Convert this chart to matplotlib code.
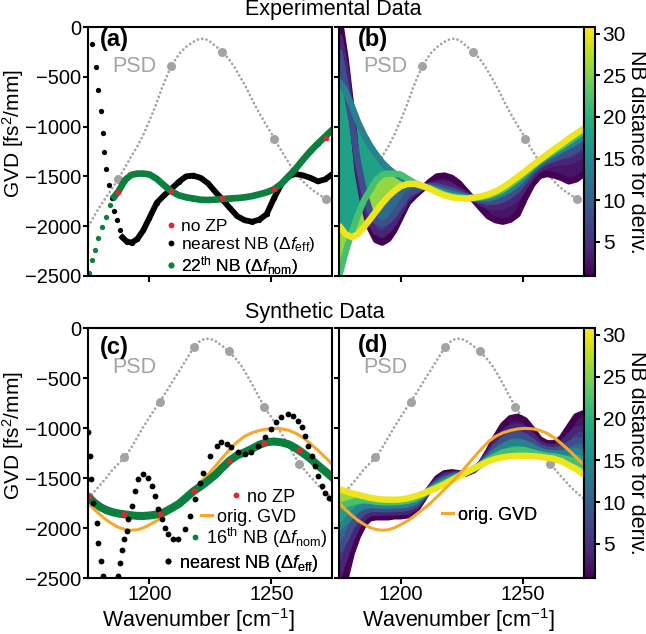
import numpy as np
import matplotlib
matplotlib.use("Agg")
import matplotlib.pyplot as plt
from matplotlib.colors import Normalize
from matplotlib.cm import ScalarMappable
from matplotlib.lines import Line2D

plt.rcParams["font.family"] = ["Liberation Sans", "DejaVu Sans"]
plt.rcParams["mathtext.fontset"] = "custom"
plt.rcParams["mathtext.rm"] = "Liberation Sans"
plt.rcParams["mathtext.it"] = "Liberation Sans:italic"
plt.rcParams["mathtext.bf"] = "Liberation Sans:bold"

# ---------------- data ----------------
# common wavenumber grid used for the smooth curves
xg = [1175, 1177.5, 1180, 1182.5, 1185, 1187.5, 1190, 1192.5, 1195, 1197.5, 1200, 1203,
      1206, 1209, 1212, 1215, 1218, 1221, 1224, 1227, 1230, 1233, 1236, 1239, 1242, 1245,
      1248, 1251, 1254, 1257, 1260, 1263, 1266, 1269, 1272, 1275]

# PSD (grey, arbitrary scale drawn on the GVD axis)
psd_x = [1175, 1177.5, 1180, 1182.5, 1185, 1187.5, 1190, 1192.5, 1195, 1197.5, 1200, 1202.5,
         1205, 1207.5, 1210, 1212.5, 1215, 1217.5, 1220, 1222.5, 1225, 1227.5, 1230, 1232.5,
         1235, 1237.5, 1240, 1242.5, 1245, 1247.5, 1250, 1252.5, 1255, 1257.5, 1260, 1262.5,
         1265, 1267.5, 1270, 1272.5, 1275]
psd_exp = [-2000, -1890, -1790, -1700, -1610, -1515, -1410, -1300, -1200, -1080,
           -940, -790, -620, -470, -350, -260, -200, -155, -125, -115,
           -150, -200, -255, -320, -410, -515, -625, -750, -865, -970,
           -1070, -1180, -1280, -1380, -1465, -1540, -1600, -1650, -1690, -1730, -1765]
psd_syn = [-1695, -1630, -1560, -1490, -1410, -1350, -1290, -1195, -1090, -985,
           -890, -795, -705, -610, -510, -415, -315, -215, -140, -105,
           -105, -135, -180, -230, -295, -370, -470, -580, -695, -805,
           -890, -990, -1090, -1195, -1300, -1385, -1460, -1525, -1595, -1650, -1700]

# experimental: no zero padding grid
nozp_exp_x = [1187.2, 1208.7, 1229.7, 1251.1, 1272.2]
nozp_exp_gvd = [-1653, -1643, -1720, -1630, -1115]
nozp_exp_psd = [-1530, -395, -254, -1123, -1732]

# experimental: nearest neighbour
nb1_exp_x = [1176.6, 1178.0, 1179.1, 1180.0, 1180.9, 1181.5, 1182.3, 1183.4, 1184.5, 1185.6,
             1186.8, 1187.8, 1188.9, 1190.7, 1192.7, 1195, 1197.5, 1200, 1203, 1206,
             1209, 1212, 1215, 1218, 1221, 1224, 1227, 1230, 1233, 1236,
             1239, 1242, 1245, 1248, 1251, 1254, 1257, 1260, 1263, 1266, 1269, 1272, 1275]
nb1_exp_y = [-171, -398, -633, -840, -1061, -1252, -1429, -1586, -1720, -1844,
             -1938, -2038, -2112, -2155, -2165, -2130, -2040, -1915, -1765, -1690,
             -1625, -1555, -1500, -1492, -1515, -1570, -1655, -1735, -1820, -1900,
             -1940, -1955, -1935, -1880, -1720, -1580, -1495, -1476, -1490, -1515, -1550, -1530, -1476]

# experimental: 22nd neighbour
nb22_exp_x = [1175.3, 1176.6, 1177.7, 1179.1, 1180.7, 1182.1, 1183.8, 1185.6, 1187.2, 1190,
              1192.5, 1195, 1197.5, 1200, 1203, 1206, 1209, 1212, 1215, 1218,
              1221, 1224, 1227, 1230, 1233, 1236, 1239, 1242, 1245, 1248,
              1251, 1254, 1257, 1260, 1263, 1266, 1269, 1272, 1275]
nb22_exp_y = [-2473, -2340, -2239, -2122, -2005, -1904, -1787, -1703, -1653, -1536,
              -1485, -1472, -1472, -1480, -1525, -1590, -1650, -1690, -1710, -1722,
              -1735, -1737, -1733, -1727, -1722, -1718, -1710, -1698, -1680, -1660,
              -1630, -1575, -1500, -1420, -1330, -1245, -1170, -1100, -1030]

# experimental: GVD for several neighbour distances (panel b)
fam_n = [1, 4, 8, 14, 22, 30]
fam_exp = [
    [90, -320, -840, -1460, -1800, -2020, -2140, -2165, -2130, -2040, -1915, -1765, -1690,
     -1625, -1555, -1500, -1492, -1515, -1570, -1655, -1735, -1820, -1900, -1940, -1955,
     -1935, -1880, -1720, -1580, -1495, -1476, -1490, -1515, -1550, -1530, -1476],
    [-100, -420, -900, -1420, -1760, -1960, -2060, -2080, -2040, -1960, -1850, -1720, -1660,
     -1610, -1590, -1570, -1580, -1600, -1640, -1685, -1725, -1765, -1800, -1810, -1800,
     -1765, -1710, -1600, -1495, -1425, -1390, -1370, -1360, -1355, -1325, -1270],
    [-250, -600, -950, -1350, -1650, -1850, -1950, -1980, -1950, -1880, -1790, -1680, -1640,
     -1605, -1600, -1600, -1620, -1640, -1670, -1700, -1720, -1740, -1760, -1750, -1730,
     -1690, -1635, -1545, -1455, -1390, -1350, -1320, -1295, -1270, -1230, -1180],
    [-550, -650, -790, -950, -1080, -1190, -1280, -1360, -1420, -1470, -1510, -1550, -1580,
     -1600, -1610, -1630, -1650, -1675, -1690, -1710, -1720, -1720, -1720, -1700, -1670,
     -1630, -1575, -1500, -1425, -1365, -1315, -1275, -1235, -1195, -1155, -1100],
    [-2490, -2260, -2060, -1890, -1740, -1640, -1536, -1485, -1472, -1472, -1480, -1525, -1570,
     -1600, -1620, -1650, -1680, -1700, -1710, -1720, -1715, -1710, -1695, -1670, -1635,
     -1585, -1530, -1470, -1405, -1345, -1295, -1245, -1200, -1150, -1100, -1050],
    [-2000, -2080, -2110, -2080, -2010, -1930, -1850, -1770, -1700, -1645, -1600, -1575, -1575,
     -1595, -1625, -1660, -1690, -1710, -1720, -1722, -1715, -1700, -1680, -1650, -1610,
     -1560, -1505, -1450, -1390, -1335, -1280, -1225, -1175, -1120, -1070, -1020],
]

# synthetic: original GVD and 16th neighbour
orig_gvd = [-1750, -1815, -1870, -1920, -1960, -1993, -2012, -2020, -2015, -1995, -1965, -1925,
            -1870, -1813, -1755, -1685, -1612, -1540, -1462, -1378, -1292, -1210, -1135, -1080,
            -1045, -1022, -1007, -1001, -1005, -1020, -1050, -1095, -1155, -1220, -1290, -1360]
nb16_syn = [-1690, -1745, -1790, -1820, -1840, -1853, -1862, -1870, -1876, -1877, -1872, -1862,
            -1840, -1800, -1757, -1695, -1630, -1580, -1525, -1465, -1390, -1320, -1270, -1240,
            -1205, -1165, -1140, -1132, -1140, -1160, -1200, -1250, -1305, -1370, -1430, -1493]

nozp_syn_x = [1175.3, 1189.7, 1204.3, 1218.3, 1232.6, 1246.9, 1261.3]
nozp_syn_gvd = [-1676, -1855, -1855, -1624, -1323, -1145, -1215]
nozp_syn_psd = [-1690, -1290, -733, -186, -230, -785, -1354]

nb1_syn_x = [1174.96, 1175.65, 1176.06, 1177.0, 1178.4, 1179.05, 1180.2, 1181.1, 1187.2, 1187.9,
             1188.9, 1189.7, 1190.7, 1191.3, 1192.7, 1194.1, 1195.4, 1197.5, 1199.5, 1200.9,
             1202.3, 1203.6, 1205.0, 1206.3, 1207.7, 1209.7, 1211.8, 1214.5, 1216.6, 1218.6,
             1220.7, 1222.0, 1224.8, 1227.5, 1229.5, 1231.6, 1233.6, 1236.3, 1239.0, 1241.8,
             1244.5, 1247.3, 1250.0, 1252.0, 1254.1, 1256.8, 1258.8, 1260.9, 1262.3, 1263.6,
             1265.0, 1266.4, 1267.8, 1269.1, 1270.5, 1271.8, 1273.4, 1275.0]
nb1_syn_y = [-1041, -1275, -1510, -1744, -1945, -2145, -2329, -2480, -2480, -2346,
             -2213, -2112, -2028, -1911, -1777, -1627, -1510, -1460, -1493, -1577,
             -1677, -1811, -1911, -1995, -2062, -2112, -2105, -2012, -1877, -1711,
             -1543, -1443, -1275, -1175, -1141, -1158, -1192, -1242, -1259, -1242,
             -1175, -1092, -1008, -941, -891, -858, -874, -924, -991, -1075,
             -1175, -1275, -1376, -1476, -1577, -1643, -1694, -1711]

fam_syn = [
    [-2700, -2500, -2250, -2080, -1960, -1900, -1890, -1890, -1890, -1880, -1880, -1870, -1830,
     -1720, -1600, -1500, -1450, -1440, -1450, -1450, -1420, -1350, -1230, -1090, -970,
     -900, -885, -920, -1010, -1110, -1150, -1150, -1100, -990, -880, -850],
    [-2430, -2280, -2100, -1975, -1890, -1850, -1845, -1845, -1845, -1840, -1840, -1830, -1795,
     -1705, -1605, -1525, -1475, -1460, -1455, -1450, -1415, -1355, -1255, -1145, -1050,
     -995, -980, -1010, -1075, -1155, -1185, -1190, -1155, -1085, -1010, -1000],
    [-2210, -2110, -1980, -1895, -1835, -1810, -1805, -1810, -1810, -1805, -1805, -1795, -1765,
     -1690, -1610, -1545, -1500, -1475, -1465, -1445, -1410, -1355, -1275, -1185, -1115,
     -1070, -1060, -1080, -1130, -1190, -1215, -1220, -1205, -1160, -1120, -1125],
    [-1990, -1935, -1860, -1810, -1780, -1765, -1770, -1775, -1775, -1770, -1770, -1760, -1735,
     -1680, -1615, -1560, -1520, -1490, -1470, -1445, -1405, -1360, -1295, -1230, -1180,
     -1145, -1140, -1150, -1185, -1225, -1245, -1250, -1250, -1235, -1225, -1245],
    [-1775, -1760, -1740, -1725, -1720, -1725, -1735, -1740, -1740, -1740, -1735, -1725, -1705,
     -1665, -1620, -1580, -1545, -1510, -1475, -1440, -1405, -1365, -1315, -1275, -1240,
     -1225, -1215, -1220, -1240, -1260, -1275, -1280, -1295, -1315, -1330, -1370],
    [-1610, -1630, -1650, -1665, -1680, -1695, -1705, -1712, -1714, -1714, -1712, -1700, -1680,
     -1655, -1625, -1595, -1560, -1520, -1480, -1440, -1400, -1365, -1330, -1305, -1290,
     -1280, -1275, -1275, -1278, -1285, -1295, -1305, -1330, -1370, -1410, -1460],
]

RED = "#e4262c"
GREEN = "#0b7f3d"
ORANGE = "#f6a82a"
GREY = "#a3a3a3"
cmap = plt.get_cmap("viridis")
norm = Normalize(0.9, 30.8)

fig = plt.figure(figsize=(6.46, 6.34), dpi=100)
ax_a = fig.add_axes([0.1362, 0.5647, 0.3785, 0.3927])
ax_b = fig.add_axes([0.5248, 0.5647, 0.3785, 0.3927])
ax_c = fig.add_axes([0.1362, 0.0879, 0.3785, 0.3943])
ax_d = fig.add_axes([0.5248, 0.0879, 0.3785, 0.3943])
cax_b = fig.add_axes([0.9033, 0.5647, 0.0178, 0.3927])
cax_d = fig.add_axes([0.9033, 0.0879, 0.0178, 0.3943])


def style(ax, ylab, xlab):
    ax.set_xlim(1174.8, 1275)
    ax.set_ylim(-2500, 0)
    ax.set_xticks([1200, 1250])
    ax.set_yticks([0, -500, -1000, -1500, -2000, -2500])
    ax.tick_params(axis="x", direction="out", length=4, width=1.5, labelsize=14.5, pad=1)
    ax.tick_params(axis="y", direction="out", length=3.5, width=1.5, labelsize=14.5, pad=1.5)
    for s in ax.spines.values():
        s.set_linewidth(1.5)
        s.set_zorder(10)
    if ylab:
        ax.set_ylabel("GVD [fs$^2$/mm]", fontsize=15)
        ax.yaxis.set_label_coords(-0.255, 0.57)
    else:
        ax.set_yticklabels([])
    if xlab:
        ax.set_xlabel("Wavenumber [cm$^{-1}$]", fontsize=15.5)
    else:
        ax.set_xticklabels([])


def psd(ax, y, xb, yb):
    ax.plot(psd_x, y, color=GREY, lw=2.0, ls=(0, (0.01, 1.6)), dash_capstyle="round", zorder=1)
    ax.plot(xb, yb, "o", color=GREY, ms=6.5, mec="none", zorder=1)
    ax.text(0.10, 0.843, "PSD", color=GREY, fontsize=15.5, va="center", transform=ax.transAxes)


def family(ax, curves):
    prev = None
    for y, n in zip(curves, fam_n):
        if prev is not None:
            c = cmap(norm((prev[1] + n) / 2))
            ax.fill_between(xg, prev[0], y, facecolor=c, edgecolor=c, lw=0.6, zorder=2)
        ax.plot(xg, y, color=cmap(norm(n)), lw=4.6, solid_capstyle="round", zorder=3)
        prev = (y, n)


def row(ax, handle, label, x, y, fs=13):
    leg = ax.legend(handles=[handle], labels=[label], loc="center left", bbox_to_anchor=(x, y),
                    frameon=False, fontsize=fs, handlelength=0.6, handletextpad=0.3,
                    borderpad=0, borderaxespad=0, numpoints=1)
    ax.add_artist(leg)


def dot(c):
    return Line2D([], [], ls="none", marker="o", color=c, ms=4.2, mec="none")


# (a)
psd(ax_a, psd_exp, nozp_exp_x, nozp_exp_psd)
ax_a.plot(nb1_exp_x[12:], nb1_exp_y[12:], color="black", lw=4.2, zorder=3)
ax_a.plot(nb1_exp_x, nb1_exp_y, "o", color="black", ms=3.8, mec="none", zorder=3)
ax_a.plot(nb22_exp_x[7:], nb22_exp_y[7:], color=GREEN, lw=4.8, zorder=4)
ax_a.plot(nb22_exp_x, nb22_exp_y, "o", color=GREEN, ms=3.8, mec="none", zorder=4)
ax_a.plot(nozp_exp_x, nozp_exp_gvd, "o", color=RED, ms=4, mec="none", zorder=5)
style(ax_a, True, False)
ax_a.text(0.05, 0.948, "(a)", fontsize=17, fontweight="bold", va="center", transform=ax_a.transAxes)
row(ax_a, dot(RED), "no ZP", 0.318, 0.198, 12.5)
row(ax_a, dot("black"), r"nearest NB ($\Delta f_{\mathrm{eff}}$)", 0.318, 0.127, 12.5)
row(ax_a, dot(GREEN), r"22$^{\mathrm{th}}$ NB ($\Delta f_{\mathrm{nom}}$)", 0.318, 0.043, 12.5)

# (b)
psd(ax_b, psd_exp, nozp_exp_x, nozp_exp_psd)
family(ax_b, fam_exp)
style(ax_b, False, False)
ax_b.text(0.078, 0.948, "(b)", fontsize=17, fontweight="bold", va="center", transform=ax_b.transAxes)

# (c)
psd(ax_c, psd_syn, nozp_syn_x, nozp_syn_psd)
ax_c.plot(xg, orig_gvd, color=ORANGE, lw=2.2, zorder=3)
ax_c.plot(xg, nb16_syn, color=GREEN, lw=5.8, zorder=4)
ax_c.plot(nb1_syn_x, nb1_syn_y, "o", color="black", ms=4.2, mec="none", zorder=5)
ax_c.plot(nozp_syn_x, nozp_syn_gvd, "o", color=RED, ms=4.2, mec="none", zorder=6)
style(ax_c, True, True)
ax_c.xaxis.set_label_coords(0.452, -0.112)
ax_c.text(0.05, 0.925, "(c)", fontsize=17, fontweight="bold", va="center", transform=ax_c.transAxes)
orange_h = Line2D([], [], color=ORANGE, lw=2.2)
row(ax_c, dot(RED), "no ZP", 0.585, 0.325)
row(ax_c, orange_h, "orig. GVD", 0.462, 0.245)
row(ax_c, dot(GREEN), r"16$^{\mathrm{th}}$ NB ($\Delta f_{\mathrm{nom}}$)", 0.415, 0.163)
row(ax_c, dot("black"), r"nearest NB ($\Delta f_{\mathrm{eff}}$)", 0.305, 0.06)

# (d)
psd(ax_d, psd_syn, nozp_syn_x, nozp_syn_psd)
family(ax_d, fam_syn)
ax_d.plot(xg, orig_gvd, color=ORANGE, lw=2.2, zorder=6)
style(ax_d, False, True)
ax_d.xaxis.set_label_coords(0.489, -0.112)
ax_d.text(0.078, 0.933, "(d)", fontsize=17, fontweight="bold", va="center", transform=ax_d.transAxes)
row(ax_d, orange_h, "orig. GVD", 0.42, 0.253)

# colour bars
for cax in (cax_b, cax_d):
    cb = fig.colorbar(ScalarMappable(norm=norm, cmap=cmap), cax=cax)
    cb.set_ticks([5, 10, 15, 20, 25, 30])
    cb.outline.set_linewidth(1.5)
    cax.tick_params(direction="out", length=3.5, width=1.5, labelsize=15, pad=2)
    cax.set_ylabel("NB distance for deriv.", fontsize=15.5, rotation=270, va="bottom")
    cax.yaxis.set_label_coords(3.7, 0.5)

fig.text(245 / 646, 1 - 10 / 634, "Experimental Data", fontsize=15.5, va="center", ha="left")
fig.text(245 / 646, 1 - 312 / 634, "Synthetic Data", fontsize=15.5, va="center", ha="left")

fig.savefig("out.png", dpi=100)
